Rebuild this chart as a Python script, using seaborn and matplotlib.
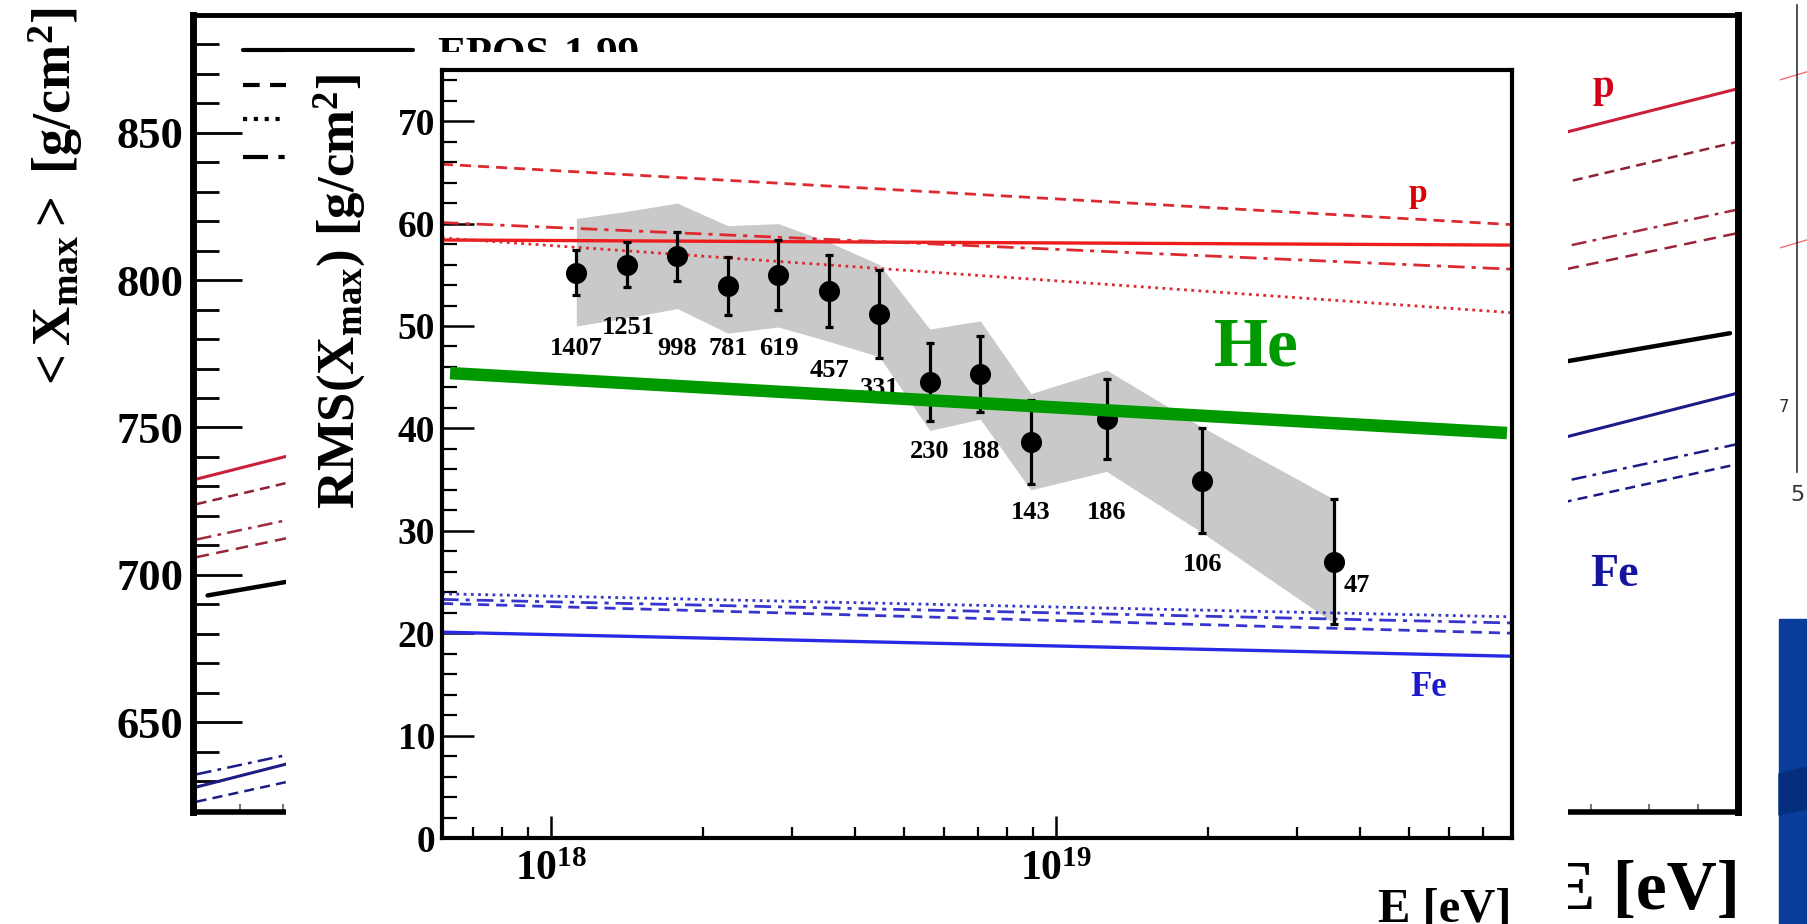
import numpy as np
import pandas as pd
import matplotlib
matplotlib.use("Agg")
import matplotlib.pyplot as plt
from matplotlib.patches import Rectangle, Polygon
from matplotlib.ticker import FixedLocator, NullFormatter, FuncFormatter
import seaborn as sns

# ---------------------------------------------------------------- data
# RMS(Xmax) measurement: bin energies (lg E/eV), values, stat. errors, events
log_energy = [18.05, 18.15, 18.25, 18.35, 18.45, 18.55, 18.65,
              18.75, 18.85, 18.95, 19.10, 19.29, 19.55]
rms_xmax = [55.2, 56.0, 56.8, 53.9, 55.0, 53.4, 51.2,
            44.5, 45.3, 38.7, 40.9, 34.9, 27.0]
rms_err = [2.2, 2.2, 2.4, 2.8, 3.4, 3.5, 4.3,
           3.8, 3.7, 4.1, 3.9, 5.1, 6.1]
n_events = [1407, 1251, 998, 781, 619, 457, 331, 230, 188, 143, 186, 106, 47]
# systematic band (upper / lower edge)
sys_upper = [60.5, 61.2, 62.0, 59.8, 60.0, 58.2, 56.0,
             49.7, 50.5, 43.4, 45.7, 40.1, 33.1]
sys_lower = [50.0, 50.8, 51.7, 49.3, 49.9, 48.5, 47.0,
             39.8, 40.9, 34.0, 35.8, 29.8, 21.0]
# where the event counts are printed
count_label_lgE = [18.05, 18.154, 18.25, 18.35, 18.452, 18.551, 18.65,
                   18.75, 18.85, 18.95, 19.10, 19.29, 19.596]
count_label_rms = [47.8, 49.9, 47.8, 47.8, 47.8, 45.7, 43.9,
                   37.7, 37.7, 31.8, 31.8, 26.7, 24.7]

# model predictions of RMS(Xmax) (straight in lg E), endpoints
model_names = ["EPOS-1.99", "QGSJET01", "QGSJETII-03", "Sibyll 2.1"]
model_lgE = [17.784, 19.903]
proton_rms = {"EPOS-1.99": [58.4, 57.9], "QGSJET01": [65.8, 59.9],
              "QGSJETII-03": [58.6, 51.3], "Sibyll 2.1": [60.1, 55.55]}
iron_rms = {"EPOS-1.99": [20.1, 17.75], "QGSJET01": [22.9, 20.0],
            "QGSJETII-03": [23.85, 21.6], "Sibyll 2.1": [23.3, 21.0]}
helium_lgE = [17.80, 19.893]
helium_rms = [45.4, 39.55]

# <Xmax> panel behind: model lines, endpoints in lg E
mean_lgE = [17.785, 19.90]
proton_mean = {"EPOS-1.99": [732.5, 865.0], "QGSJET01": [724.0, 847.0],
               "Sibyll 2.1": [712.0, 824.0], "QGSJETII-03": [706.0, 816.0]}
mixed_lgE = [17.80, 19.889]
mixed_mean = [693.0, 782.0]
iron_mean = {"EPOS-1.99": [628.0, 761.7], "Sibyll 2.1": [632.3, 744.4],
             "QGSJET01": [623.0, 737.6]}

# neighbouring panel on the far right
side_lines = [[3.31, 3.45], [1.72, 1.86]]

# ---------------------------------------------------------------- style
sns.set_theme(style="white")
plt.rcParams.update({
    "font.family": ["Liberation Serif", "DejaVu Serif"],
    "font.weight": "bold",
    "axes.labelweight": "bold",
    "mathtext.fontset": "custom",
    "mathtext.rm": "Liberation Serif:bold",
    "mathtext.it": "Liberation Serif:bold:italic",
    "mathtext.bf": "Liberation Serif:bold",
    "text.color": "black",
    "axes.edgecolor": "black",
    "xtick.color": "black",
    "ytick.color": "black",
    "axes.labelcolor": "black",
})

W, H = 1807, 924
fig = plt.figure(figsize=(W / 100, H / 100), dpi=100, facecolor="white")


def rect(l, t, r, b):
    return [l / W, 1 - b / H, (r - l) / W, (b - t) / H]


styles = {"EPOS-1.99": "-", "QGSJET01": (0, (4, 2.5)),
          "QGSJETII-03": (0, (1, 1.6)), "Sibyll 2.1": (0, (6, 2.5, 1.5, 2.5))}

# ---------------------------------------------------------------- far right fragment
axr = fig.add_axes(rect(1780, 5, 1830, 472), zorder=0)
axr.set_xlim(0, 1)
axr.set_ylim(-0.4, 4.018)
for ys in side_lines:
    axr.plot([0, 1], ys, color="#f07070", lw=1.0)
for s in ["top", "right", "bottom"]:
    axr.spines[s].set_visible(False)
axr.spines["left"].set_position(("axes", 0.34))
axr.spines["left"].set_linewidth(1.2)
axr.spines["left"].set_color("#333333")
axr.set_xticks([])
axr.yaxis.set_major_locator(FixedLocator([-0.4, 0, 1, 2, 3, 4]))
axr.yaxis.set_minor_locator(FixedLocator(np.arange(-0.2, 4.0, 0.2)))
axr.tick_params(axis="y", which="major", direction="out", length=10,
                width=1.2, color="#333333", labelleft=False)
axr.tick_params(axis="y", which="minor", direction="out", length=6,
                width=1.0, color="#333333")
axr.text(0.34, -0.05, "5", transform=axr.transAxes, ha="center",
         va="center", fontsize=16, family="DejaVu Sans", weight="normal",
         color="#333333")
axr.text(0.08, 0.139, "7", transform=axr.transAxes, ha="center",
         va="center", fontsize=12, family="DejaVu Sans", weight="normal",
         color="#333333")
axr.patch.set_alpha(0)

# slide decoration (blue corner)
fig.patches.append(Rectangle((1779 / W, 0), 30 / W, (924 - 619) / H,
                             transform=fig.transFigure, color="#0a3c9c",
                             zorder=0.5))
fig.patches.append(Polygon([(1779 / W, 1 - 774 / H), (1.0, 1 - 767 / H),
                            (1.0, 1 - 809 / H), (1779 / W, 1 - 815 / H)],
                           closed=True, transform=fig.transFigure,
                           color="#052f7e", zorder=0.6))

# ---------------------------------------------------------------- <Xmax> panel
axb = fig.add_axes(rect(193, 15, 1738, 812), zorder=1)
axb.set_facecolor("white")
axb.set_xlim(17.78, 19.90)
axb.set_ylim(619.5, 890)

red_b = {"EPOS-1.99": "#cc1f3a", "QGSJET01": "#8e2234",
         "Sibyll 2.1": "#a32a3c", "QGSJETII-03": "#9a2438"}
bstyle = {"EPOS-1.99": "-", "QGSJET01": (0, (4, 2.5)),
          "Sibyll 2.1": (0, (6, 2.5, 1.5, 2.5)), "QGSJETII-03": (0, (5, 3))}
for name, ys in proton_mean.items():
    axb.plot(mean_lgE, ys, color=red_b[name], ls=bstyle[name],
             lw=2.2 if name == "EPOS-1.99" else 1.8)
axb.plot(mixed_lgE, mixed_mean, color="black", lw=3.2)
for name, ys in iron_mean.items():
    axb.plot(mean_lgE, ys, color="#1b1b86", ls=bstyle[name],
             lw=2.2 if name == "EPOS-1.99" else 1.8)
axb.text(19.715, 865.3, "p", color="#d4001a", fontsize=28, ha="center",
         va="center")
axb.text(19.731, 699.9, "Fe", color="#1414a0", fontsize=33, ha="center",
         va="center")

# legend of hadronic models (top left); only the first entry shows above
# the RMS panel
leg_rows = [0.956, 0.912, 0.870, 0.822]
for name, yy in zip(model_names, leg_rows):
    axb.plot([0.0324, 0.1424], [yy, yy], transform=axb.transAxes,
             color="black", ls=styles[name], lw=3)
axb.text(0.158, leg_rows[0] - 0.02, model_names[0], transform=axb.transAxes,
         fontsize=31, va="baseline", ha="left")

axb.yaxis.set_major_locator(FixedLocator([650, 700, 750, 800, 850]))
axb.yaxis.set_minor_locator(FixedLocator(np.arange(630, 890, 10)))
axb.tick_params(axis="y", which="major", direction="in", length=35,
                width=2.0, labelsize=32, pad=7, left=True)
axb.tick_params(axis="y", which="minor", direction="in", length=19,
                width=2.0, left=True)
minor_b = [np.log10(k * 10.0 ** n) for n in (17, 18, 19) for k in range(1, 10)]
axb.xaxis.set_major_locator(FixedLocator([18, 19]))
axb.xaxis.set_minor_locator(FixedLocator(minor_b))
axb.tick_params(axis="x", which="both", direction="in", length=6,
                width=1.5, color="#777777", labelbottom=False, bottom=True)
for s, lw in [("left", 5), ("right", 5), ("top", 3.5), ("bottom", 4)]:
    axb.spines[s].set_linewidth(lw)
    axb.spines[s].set_color("black")
axb.set_ylabel(r"$\mathrm{<X_{max}>\ [g/cm^{2}]}$", fontsize=39)
axb.yaxis.set_label_coords(-0.070, 0.768)
axb.set_xlabel("E [eV]", fontsize=50, loc="right")
axb.xaxis.set_label_coords(1.0013, -0.060)
axb.xaxis.label.set_va("top")

# ---------------------------------------------------------------- white panel of the RMS plot
axp = fig.add_axes(rect(286, 52, 1568, 924), zorder=2)
axp.set_facecolor("white")
axp.set_xticks([])
axp.set_yticks([])
for s in axp.spines.values():
    s.set_visible(False)

# ---------------------------------------------------------------- RMS(Xmax) plot
ax = fig.add_axes(rect(442, 70, 1512, 838), zorder=3)
ax.set_facecolor("white")
ax.set_xscale("log")
ax.set_xlim(10 ** 17.784, 10 ** 19.903)
ax.set_ylim(0, 75)

energy = [10 ** v for v in log_energy]
ax.fill_between(energy, sys_lower, sys_upper, color="#c9c9c9", lw=0,
                zorder=1)

mE = [10 ** v for v in model_lgE]
for name in model_names:
    solid = name == "EPOS-1.99"
    ax.plot(mE, proton_rms[name], color="#ee1c1c" if solid else "#dd2a30",
            ls=styles[name], lw=2.4 if solid else 2.0, zorder=2)
    ax.plot(mE, iron_rms[name], color="#2a2ae6" if solid else "#3636cc",
            ls=styles[name], lw=2.4 if solid else 2.0, zorder=2)

ax.errorbar(energy, rms_xmax, yerr=rms_err, fmt="none", ecolor="black",
            elinewidth=2.3, capsize=3.2, capthick=2.3, zorder=4)
df = pd.DataFrame({"E": energy, "rms": rms_xmax})
sns.scatterplot(data=df, x="E", y="rms", ax=ax, color="black", s=230,
                edgecolor="black", linewidth=0, zorder=5, legend=False)

for n, lx, ly in zip(n_events, count_label_lgE, count_label_rms):
    ax.text(10 ** lx, ly, str(n), fontsize=19, ha="center", va="center",
            zorder=4.5)

he = pd.DataFrame({"E": [10 ** v for v in helium_lgE], "rms": helium_rms})
sns.lineplot(data=he, x="E", y="rms", ax=ax, color="#009a00", lw=9,
             zorder=6, solid_capstyle="butt")
ax.text(10 ** 19.396, 47.8, "He", color="#009a00", fontsize=50,
        ha="center", va="center", zorder=6)
ax.text(10 ** 19.717, 62.9, "p", color="#dd0000", fontsize=24,
        ha="center", va="center", zorder=6)
ax.text(10 ** 19.739, 14.7, "Fe", color="#1a1acc", fontsize=25,
        ha="center", va="center", zorder=6)

ax.xaxis.set_major_locator(FixedLocator([1e18, 1e19]))
ax.xaxis.set_major_formatter(FuncFormatter(
    lambda v, p: r"$\mathrm{10^{%d}}$" % round(np.log10(v))))
ax.xaxis.set_minor_locator(FixedLocator(
    [k * 10.0 ** n for n in (17, 18, 19) for k in range(2, 10)]))
ax.xaxis.set_minor_formatter(NullFormatter())
ax.yaxis.set_major_locator(FixedLocator(np.arange(0, 71, 10)))
ax.yaxis.set_minor_locator(FixedLocator(np.arange(0, 75, 2)))
ax.tick_params(axis="y", which="major", direction="in", length=23,
               width=1.8, labelsize=27, pad=5, left=True, right=False)
ax.tick_params(axis="y", which="minor", direction="in", length=11,
               width=1.6, left=True, right=False)
ax.tick_params(axis="x", which="major", direction="in", length=16,
               width=1.8, labelsize=30, pad=9, bottom=True, top=False)
ax.tick_params(axis="x", which="minor", direction="in", length=8,
               width=1.6, bottom=True, top=False)
for s in ax.spines.values():
    s.set_linewidth(3.0)
    s.set_color("black")
ax.set_ylabel(r"$\mathrm{RMS(X_{max})\ [g/cm^{2}]}$", fontsize=38)
ax.yaxis.set_label_coords(-0.069, 0.712)
ax.set_xlabel("E [eV]", fontsize=35, loc="right")
ax.xaxis.set_label_coords(1.0, -0.064)
ax.xaxis.label.set_va("top")

fig.savefig("out.png", dpi=100, facecolor="white")
